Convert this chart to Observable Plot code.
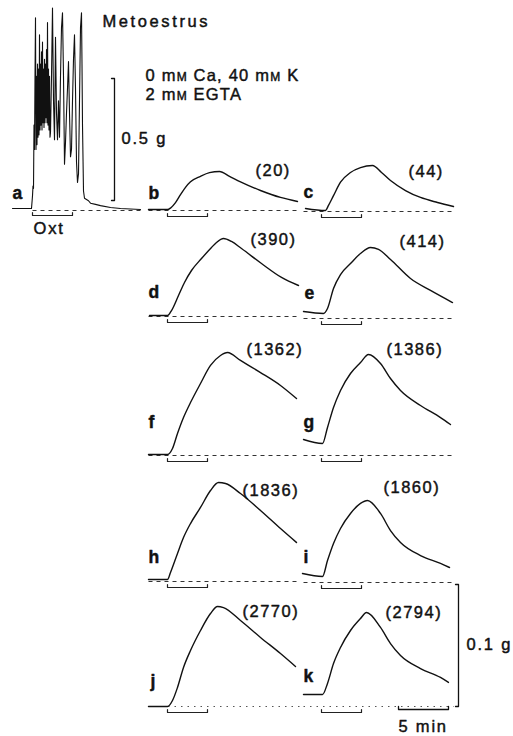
<!DOCTYPE html>
<html><head><meta charset="utf-8">
<script src="https://cdn.jsdelivr.net/npm/d3@7"></script>
<script src="https://cdn.jsdelivr.net/npm/@observablehq/plot@0.6"></script>
<style>
html,body{margin:0;padding:0;background:#fff;}
#chart svg{display:block;}
</style></head><body><div id="chart"></div>
<script>
// ---------------- DATA ----------------
// Panel a: time (min from start of oxytocin) and tension (g)
const traceA = [
[-2.0,0.008],[-0.1,0.008],[0.0,0.06],[0.05,0.10],[0.1,0.09],[0.15,0.35],[0.2,0.25],[0.25,0.55],[0.3,0.79],
[0.35,0.25],[0.4,0.55],[0.45,0.27],[0.5,0.60],[0.55,0.30],[0.6,0.58],[0.65,0.31],[0.7,0.72],[0.75,0.33],
[0.8,0.60],[0.85,0.35],[0.9,0.65],[0.95,0.33],[1.0,0.69],[1.05,0.36],[1.1,0.58],[1.15,0.34],[1.2,0.62],
[1.25,0.36],[1.3,0.60],[1.35,0.38],[1.4,0.66],[1.45,0.36],[1.5,0.77],[1.55,0.35],[1.6,0.58],[1.65,0.33],
[1.7,0.55],[1.75,0.30],[1.8,0.32],[1.9,0.55],[2.0,0.83],[2.1,0.45],[2.2,0.29],[2.3,0.71],[2.4,0.40],
[2.5,0.29],[2.6,0.45],[2.7,0.30],[2.8,0.55],[2.9,0.75],[3.0,0.81],[3.1,0.55],[3.2,0.19],[3.3,0.28],
[3.4,0.40],[3.5,0.50],[3.6,0.61],[3.7,0.40],[3.8,0.22],[3.9,0.25],[4.0,0.45],[4.1,0.62],[4.2,0.72],
[4.3,0.50],[4.4,0.20],[4.5,0.115],[4.6,0.15],[4.7,0.45],[4.8,0.75],[4.9,0.81],[4.95,0.6],[5.0,0.35],
[5.1,0.08],[5.2,0.05],[5.4,0.045],[5.6,0.04],[5.8,0.03],[6.3,0.025],[6.8,0.02],[7.8,0.012],[8.8,0.008],[10.8,0.004]
];
// Panels b-k: time (min from start of oxytocin) and tension (mg)
const trace_b = [[-1.9,0.8],[0,0.8],[0.3,2],[0.8,6.5],[1.3,13],[1.8,19],[2.3,23.5],[3.3,28],[4.2,31],[5.2,32],[6.2,28],[7.3,23.5],[9.3,16.4],[11.3,10.7],[13.0,7.4]];
const trace_c = [[-1.6,2.5],[0.4,0.8],[0.7,5],[1.2,13],[1.9,24],[2.9,32],[3.9,36],[5.1,37.7],[6.0,32],[6.9,25.4],[8.4,17.2],[9.9,11.5],[11.6,7.4],[13.2,4.1]];
const trace_d = [[-1.8,0.8],[0,0.8],[0.4,4.9],[1.1,17.2],[1.7,27.9],[2.4,37.7],[3.4,47.5],[4.4,56.6],[4.9,60.7],[5.6,63.9],[6.4,61.5],[7.4,55.7],[9.4,43.4],[11.4,32],[13.1,25.4]];
const trace_e = [[-1.8,5.7],[0.2,4.1],[0.6,8.2],[1.2,24.6],[1.9,36],[2.9,45],[3.9,53.3],[4.9,58.2],[5.7,56.6],[6.9,48.4],[8.9,32.8],[10.9,23],[13.1,13.1]];
const trace_f = [[-1.9,0.8],[0,0.8],[0.5,5.7],[1.0,18],[1.6,31.1],[2.3,43.4],[3.3,59],[4.3,73.8],[5.3,82],[6.0,84.4],[7.3,77.9],[9.3,68],[11.3,57.4],[12.9,46.7]];
const trace_g = [[-1.8,13.1],[0.1,9.8],[0.6,23],[1.2,39.3],[1.9,53.3],[2.9,67.2],[3.9,76.2],[4.7,82.8],[5.9,75.4],[6.9,63.1],[7.9,53.3],[9.9,41],[11.9,31.1],[12.9,25.4]];
const trace_h = [[-1.9,1.6],[0,1.6],[0.3,7.4],[1.0,23],[1.6,36],[2.3,47.5],[3.3,60.7],[4.3,74.6],[5.1,81.1],[5.8,80.3],[7.3,72.1],[9.3,58.2],[11.3,43.4],[12.9,32]];
const trace_i = [[-1.9,7.4],[0.1,4.9],[0.6,18],[1.2,32],[1.9,44.3],[2.9,56.6],[3.9,64.8],[4.6,67.2],[5.9,56.6],[6.9,42.6],[7.9,32.8],[9.9,22.1],[11.9,15.6],[12.8,12.3]];
const trace_j = [[-1.9,0],[0,0],[0.5,4.9],[1.0,15.6],[1.6,32],[2.3,45.9],[3.3,62.3],[4.3,76.2],[5.0,82],[5.6,81.1],[7.3,70.5],[9.3,56.6],[11.3,43.4],[12.8,32.8]];
const trace_k = [[-1.8,9.8],[0.1,9.8],[0.6,18.9],[1.2,35.2],[1.9,48.4],[2.9,62.3],[3.9,72.1],[4.5,77],[5.9,64.8],[6.9,51.6],[7.9,41.8],[9.9,31.1],[11.9,23.8],[12.7,19.7]];

const panelLetters = ["b","c","d","e","f","g","h","i","j","k"];
const exposureCounts = [20, 44, 390, 414, 1362, 1386, 1836, 1860, 2770, 2794];
const oxtDurationMin = 4;
const scaleA_g = 0.5, scaleB_mg = 100, scaleTime_min = 5;
const titleText = "Metoestrus";
const conditionLines = ["0 mM Ca, 40 mM K", "2 mM EGTA"];

// ---------------- LAYOUT ----------------
const W = 513, H = 736;
const PX_MIN = 10, PX_G_A = 244, PX_MG = 1.22;
const FONT = "'Liberation Sans', Arial, Helvetica, sans-serif";
const traces = {b:trace_b,c:trace_c,d:trace_d,e:trace_e,f:trace_f,g:trace_g,h:trace_h,i:trace_i,j:trace_j,k:trace_k};
const colX = [167, 321];
const rowY = [[210,211],[316,318],[455,455],[581,582],[706,706]];
const letterPos = [[148,193],[303,192],[148,292],[304,293],[148,422],[303,422],[148,557],[303,557],[150,681],[303,676]];
const countPos = [[255,170],[408,171],[250,239],[399,241],[246,349],[386,349],[242,490],[383,487],[242,611],[385,612]];
const A = {x0: 32, y0: 210};

const panels = panelLetters.map((p, i) => {
  const col = i % 2, row = Math.floor(i / 2);
  return {p, i, col, row, x0: colX[col], y0: rowY[row][col]};
});
const fx = (P, t) => P.x0 + t * PX_MIN;
const fy = (P, mg) => P.y0 - mg * PX_MG;

const traceRows = panels.flatMap(P => traces[P.p].map(([t, mg]) => ({panel: P.p, x: fx(P, t), y: fy(P, mg)})));
const traceARows = traceA.map(([t, g]) => ({x: A.x0 + t * PX_MIN, y: A.y0 - g * PX_G_A}));

const dashRows = panels.map(P => {
  const t0 = P.col === 0 ? -1.9 : -1.8, t1 = P.col === 0 ? 13.3 : 13.2;
  return {panel: P.p, dotted: P.row === 4, x1: fx(P, t0), x2: fx(P, t1), y: P.y0};
});
dashRows.push({panel: "a", dotted: false, x1: A.x0, x2: A.x0 + 10.8 * PX_MIN, y: A.y0});

function bracket(id, x0, y) {
  const x1 = x0 + oxtDurationMin * PX_MIN;
  return [{id, x: x0, y: y - 3}, {id, x: x0, y}, {id, x: x1, y}, {id, x: x1, y: y - 3}];
}
const bracketRows = [
  ...bracket("a", A.x0, A.y0 + 5),
  ...panels.flatMap(P => bracket(P.p, P.x0, P.y0 + 6))
];
// scale bars
const barA = {x: 114, yb: 200};
const barB = {x: 458, yb: 706};
const barT = {x: 398, y: 709};
const scaleRows = [
  {id:"A", x: barA.x - 3, y: barA.yb - scaleA_g * PX_G_A}, {id:"A", x: barA.x, y: barA.yb - scaleA_g * PX_G_A},
  {id:"A", x: barA.x, y: barA.yb}, {id:"A", x: barA.x - 3, y: barA.yb},
  {id:"B", x: barB.x - 3, y: barB.yb - scaleB_mg * PX_MG}, {id:"B", x: barB.x, y: barB.yb - scaleB_mg * PX_MG},
  {id:"B", x: barB.x, y: barB.yb}, {id:"B", x: barB.x - 3, y: barB.yb},
  {id:"T", x: barT.x, y: barT.y - 3}, {id:"T", x: barT.x, y: barT.y},
  {id:"T", x: barT.x + scaleTime_min * PX_MIN, y: barT.y}, {id:"T", x: barT.x + scaleTime_min * PX_MIN, y: barT.y - 3}
];

const letterRows = [{s:"a", x:12, y:193}, ...panels.map(P => ({s: P.p, x: letterPos[P.i][0], y: letterPos[P.i][1]}))];
const countRows = panels.map(P => ({s: `(${exposureCounts[P.i]})`, x: countPos[P.i][0], y: countPos[P.i][1]}));
const miscText = [
  {s: titleText, x: 102, y: 21, ls: 2.6},
  {s: conditionLines[0], x: 145, y: 75, ls: 1.2},
  {s: conditionLines[1], x: 145, y: 94, ls: 1.2},
  {s: `${scaleA_g} g`, x: 121, y: 138, ls: 1.8},
  {s: "Oxt", x: 33, y: 228, ls: 1.8},
  {s: `${scaleB_mg / 1000} g`, x: 466, y: 644, ls: 1.8},
  {s: `${scaleTime_min} min`, x: 398, y: 726, ls: 1.8}
];

const textStroke = {stroke: "#111", strokeWidth: 0.45};
const chart = Plot.plot({
  width: W, height: H, margin: 0,
  x: {domain: [0, W], range: [0, W], axis: null},
  y: {domain: [H, 0], range: [H, 0], axis: null},
  style: {background: "#fff", fontFamily: FONT},
  marks: [
    Plot.link(dashRows.filter(d => !d.dotted), {x1: "x1", x2: "x2", y1: "y", y2: "y", stroke: "#333", strokeWidth: 1, strokeDasharray: "4,4"}),
    Plot.link(dashRows.filter(d => d.dotted), {x1: "x1", x2: "x2", y1: "y", y2: "y", stroke: "#555", strokeWidth: 1, strokeDasharray: "1.5,5"}),
    Plot.line(traceARows, {x: "x", y: "y", stroke: "#111", strokeWidth: 1.1, curve: "linear"}),
    Plot.line(traceRows, {x: "x", y: "y", z: "panel", stroke: "#111", strokeWidth: 1.4, curve: "monotone-x"}),
    Plot.line(bracketRows, {x: "x", y: "y", z: "id", stroke: "#222", strokeWidth: 1.2}),
    Plot.line(scaleRows, {x: "x", y: "y", z: "id", stroke: "#111", strokeWidth: 1.3}),
    Plot.text(letterRows, {x: "x", y: "y", text: "s", textAnchor: "start", lineAnchor: "middle", fontSize: 17.5, fontWeight: "bold", fill: "#111", ...textStroke}),
    Plot.text(countRows, {x: "x", y: "y", text: "s", textAnchor: "start", lineAnchor: "middle", fontSize: 16.5, fill: "#111", ...textStroke}),
    Plot.text(miscText, {x: "x", y: "y", text: "s", textAnchor: "start", lineAnchor: "middle", fontSize: 16.5, fill: "#111", ...textStroke})
  ]
});
document.getElementById("chart").appendChild(chart);

// typographic touches: letter spacing and small-capital M in "mM"
const lsMap = new Map(miscText.map(d => [d.s, d.ls]));
d3.select(chart).selectAll("text").each(function () {
  const s = this.textContent;
  if (/^\(\d+\)$/.test(s)) this.setAttribute("letter-spacing", "1.5");
  else if (lsMap.has(s)) this.setAttribute("letter-spacing", lsMap.get(s));
  if (conditionLines.includes(s)) {
    const el = d3.select(this); el.text("");
    s.split(/(mM)/).forEach(part => {
      if (part === "mM") { el.append("tspan").text("m"); el.append("tspan").attr("font-size", 12).text("M"); }
      else el.append("tspan").text(part);
    });
  }
});
</script></body></html>
